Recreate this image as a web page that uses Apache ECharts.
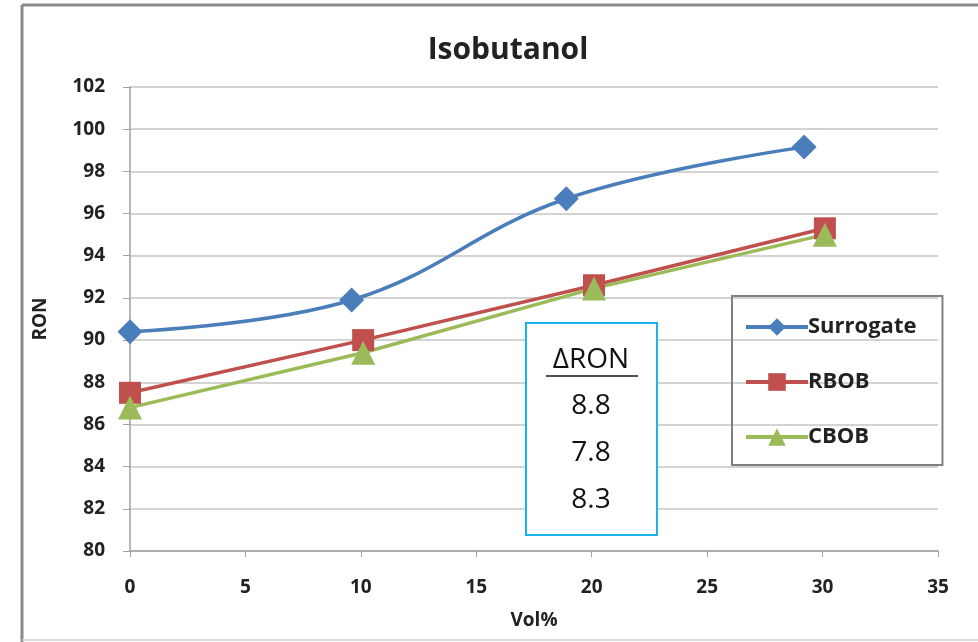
<!DOCTYPE html>
<html>
<head>
<meta charset="utf-8">
<script src="https://cdn.jsdelivr.net/npm/echarts@6/dist/echarts.min.js"></script>
<style>
	html, body { margin: 0; padding: 0; background: #fff; }
	#chart { width: 978px; height: 642px; }
</style>
</head>
<body>
<div id="chart"></div>
<script>
const surrogate	= [ [0, 90.4], [9.6, 91.9], [18.9, 96.7], [29.2, 99.15] ]
const rbob		= [ [0, 87.5], [10.1, 90.0], [20.1, 92.6], [30.1, 95.3] ]
const cbob		= [ [0, 86.8], [10.1, 89.4], [20.1, 92.45], [30.1, 95.0] ]
const deltaHead	= '\u0394RON'
const deltaRon	= [ '8.8', '7.8', '8.3' ]

const font = '"Open Sans", "DejaVu Sans", sans-serif'
const bold = { fontFamily: font, fontWeight: 'bold', color: '#222' }

const chart = echarts.init(document.getElementById('chart'))
chart.setOption({
	backgroundColor: '#fff',
	animation: false,
	title: {
		text: 'Isobutanol',
		left: 503, top: 30, textAlign: 'center',
		textStyle: { ...bold, fontSize: 30 }
	},
	grid: { left: 130, right: 40, top: 87, bottom: 91 },
	xAxis: {
		type: 'value', min: 0, max: 35, interval: 5,
		name: 'Vol%', nameLocation: 'middle', nameGap: 60,
		nameTextStyle: { ...bold, fontSize: 19 },
		axisLine: { lineStyle: { color: '#a0a0a0', width: 1.5 } },
		axisTick: { show: true, length: 6, lineStyle: { color: '#a0a0a0' } },
		axisLabel: { ...bold, fontSize: 19, margin: 27 },
		splitLine: { show: false }
	},
	yAxis: {
		type: 'value', min: 80, max: 102, interval: 2,
		name: 'RON', nameLocation: 'middle', nameGap: 80, nameRotate: 90,
		nameTextStyle: { ...bold, fontSize: 19 },
		axisLine: { show: true, lineStyle: { color: '#a0a0a0', width: 1.5 } },
		axisTick: { show: true, length: 7, lineStyle: { color: '#a0a0a0' } },
		axisLabel: { ...bold, fontSize: 19, margin: 25 },
		splitLine: { lineStyle: { color: '#c4c4c4', width: 1.5 } }
	},
	legend: {
		orient: 'vertical', left: 732, top: 296,
		padding: [ 20, 26, 17, 12 ], itemGap: 33,
		itemWidth: 62, itemHeight: 22,
		borderColor: '#7f7f7f', borderWidth: 2,
		lineStyle: { width: 4 },
		textStyle: { ...bold, fontSize: 22, padding: [0, 0, 0, -5] },
		data: [ 'Surrogate', 'RBOB', 'CBOB' ]
	},
	series: [
		{
			name: 'Surrogate', type: 'line', data: surrogate, smooth: 0.4,
			symbol: 'diamond', symbolSize: 25,
			lineStyle: { color: '#4a7ebb', width: 3.5 },
			itemStyle: { color: '#4a7ebb' }
		},
		{
			name: 'RBOB', type: 'line', data: rbob,
			symbol: 'rect', symbolSize: 22,
			lineStyle: { color: '#c0504d', width: 3.5 },
			itemStyle: { color: '#c0504d' }
		},
		{
			name: 'CBOB', type: 'line', data: cbob,
			symbol: 'triangle', symbolSize: 24,
			lineStyle: { color: '#9bbb59', width: 3.5 },
			itemStyle: { color: '#9bbb59' }
		}
	],
	graphic: [
		// outer frame of the pasted figure
		{ type: 'line', shape: { x1: 22, y1: 5, x2: 978, y2: 5 }, style: { stroke: '#8a8a8a', lineWidth: 3 } },
		{ type: 'line', shape: { x1: 22, y1: 5, x2: 22, y2: 642 }, style: { stroke: '#8a8a8a', lineWidth: 3 } },
		{ type: 'line', shape: { x1: 22, y1: 640, x2: 978, y2: 640 }, style: { stroke: '#d0d0d0', lineWidth: 1.5 } },
		// delta RON annotation box
		{
			type: 'rect', shape: { x: 526, y: 323, width: 131, height: 212 },
			style: { fill: '#fff', stroke: '#1ab2ea', lineWidth: 2 }, z: 100
		},
		{
			type: 'text', x: 591, y: 360, z: 101,
			style: { text: deltaHead, fontFamily: font, fontSize: 28, fill: '#111', align: 'center', verticalAlign: 'middle' }
		},
		{ type: 'line', z: 101, shape: { x1: 546, y1: 376, x2: 638, y2: 376 }, style: { stroke: '#111', lineWidth: 1.5 } },
		...deltaRon.map((v, i) => ({
			type: 'text', x: 591, y: 406 + i * 47, z: 101,
			style: { text: v, fontFamily: font, fontSize: 28, fill: '#111', align: 'center', verticalAlign: 'middle' }
		}))
	]
})
</script>
</body>
</html>
